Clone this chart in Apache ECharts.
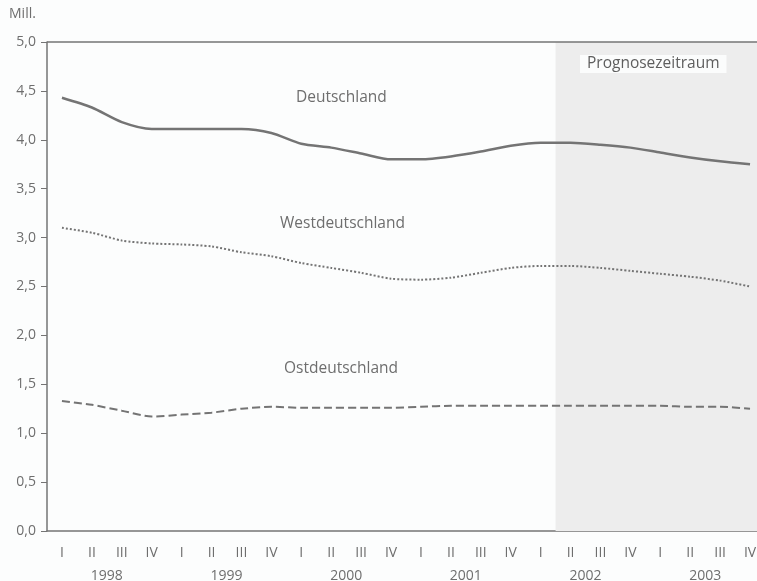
<!DOCTYPE html>
<html>
<head>
<meta charset="utf-8">
<script src="https://cdn.jsdelivr.net/npm/echarts@6/dist/echarts.min.js"></script>
<style>
  html, body { margin: 0; padding: 0; background: #fcfdfd; }
  #chart { width: 757px; height: 581px; }
</style>
</head>
<body>
<div id="chart"></div>
<script>
const years = ['1998', '1999', '2000', '2001', '2002', '2003'];
const quarterNames = ['I', 'II', 'III', 'IV'];
const quarters = [];
years.forEach(function (y) {
    quarterNames.forEach(function (q) { quarters.push(y + ' ' + q); });
});

// Mill. Erwerbslose, Quartalswerte
const deutschland = [4.43, 4.33, 4.18, 4.11, 4.11, 4.11, 4.11, 4.07,
                     3.96, 3.92, 3.86, 3.80, 3.80, 3.83, 3.88, 3.94,
                     3.97, 3.97, 3.95, 3.92, 3.87, 3.82, 3.78, 3.75];
const westdeutschland = [3.10, 3.05, 2.97, 2.94, 2.93, 2.91, 2.85, 2.81,
                         2.74, 2.69, 2.64, 2.58, 2.57, 2.59, 2.64, 2.69,
                         2.71, 2.71, 2.69, 2.66, 2.63, 2.60, 2.56, 2.50];
const ostdeutschland = [1.33, 1.29, 1.23, 1.17, 1.19, 1.21, 1.25, 1.27,
                        1.26, 1.26, 1.26, 1.26, 1.27, 1.28, 1.28, 1.28,
                        1.28, 1.28, 1.28, 1.28, 1.28, 1.27, 1.27, 1.25];
const forecastStart = quarters.indexOf('2002 II');

const grey = '#747474';
const textGrey = '#6e6e6e';
const font = 'Open Sans';

const chart = echarts.init(document.getElementById('chart'));

const option = {
    backgroundColor: '#fcfdfd',
    animation: false,
    textStyle: { fontFamily: font },
    // plot runs past the right edge of the picture (2003 IV is cut off)
    grid: { left: 47, top: 42, bottom: 50, width: 718, outerBoundsMode: 'none', containLabel: false },
    xAxis: [
        {
            type: 'category',
            data: quarters,
            boundaryGap: true,
            axisLine: { lineStyle: { color: grey, width: 1.5 } },
            axisTick: { interval: 3, length: 4, lineStyle: { color: grey } },
            axisLabel: {
                interval: 0,
                margin: 15,
                color: textGrey,
                fontSize: 14,
                formatter: function (v) { return v.split(' ')[1]; }
            }
        },
        {
            type: 'category',
            data: years,
            position: 'bottom',
            offset: 23,
            axisLine: { show: false },
            axisTick: { show: false },
            axisLabel: { margin: 15, color: textGrey, fontSize: 14 }
        },
        {
            type: 'value',
            min: 0,
            max: quarters.length,
            show: false
        }
    ],
    yAxis: {
        type: 'value',
        min: 0,
        max: 5,
        interval: 0.5,
        splitLine: { show: false },
        axisLine: { show: true, lineStyle: { color: grey, width: 1.5 } },
        axisTick: { show: true, length: 6, lineStyle: { color: grey } },
        axisLabel: {
            margin: 11,
            color: textGrey,
            fontSize: 14,
            formatter: function (v) { return v.toFixed(1).replace('.', ','); }
        }
    },
    graphic: [
        { type: 'text', left: 9, top: 7, style: { text: 'Mill.', fill: textGrey, font: '14px "' + font + '"' } },
        { type: 'text', left: 296, top: 90, style: { text: 'Deutschland', fill: textGrey, font: '15.5px "' + font + '"' } },
        { type: 'text', left: 280, top: 216, style: { text: 'Westdeutschland', fill: textGrey, font: '15.5px "' + font + '"' } },
        { type: 'text', left: 284, top: 361, style: { text: 'Ostdeutschland', fill: textGrey, font: '15.5px "' + font + '"' } },
        {
            type: 'text', left: 580, top: 55, z: 10,
            style: {
                text: 'Prognosezeitraum', fill: '#5e5e5e', font: '15.5px "' + font + '"',
                backgroundColor: '#fbfcfc', padding: [1, 7, 1, 7]
            }
        }
    ],
    series: [
        {
            name: 'Prognose',
            type: 'line',
            xAxisIndex: 2,
            data: [],
            markArea: {
                silent: true,
                itemStyle: { color: '#ededed' },
                data: [[{ xAxis: forecastStart }, { xAxis: quarters.length }]]
            },
            markLine: {
                silent: true,
                symbol: 'none',
                label: { show: false },
                lineStyle: { color: grey, width: 1.5, type: 'solid' },
                data: [{ yAxis: 5 }]
            }
        },
        {
            name: 'Deutschland',
            type: 'line',
            data: deutschland,
            smooth: 0.25,
            showSymbol: false,
            lineStyle: { color: grey, width: 2.5 },
            z: 3
        },
        {
            name: 'Westdeutschland',
            type: 'line',
            data: westdeutschland,
            smooth: 0.25,
            showSymbol: false,
            lineStyle: { color: grey, width: 2, type: [2, 2] },
            z: 3
        },
        {
            name: 'Ostdeutschland',
            type: 'line',
            data: ostdeutschland,
            smooth: 0.25,
            showSymbol: false,
            lineStyle: { color: grey, width: 2, type: [8, 4] },
            z: 3
        }
    ]
};

chart.setOption(option);
</script>
</body>
</html>
